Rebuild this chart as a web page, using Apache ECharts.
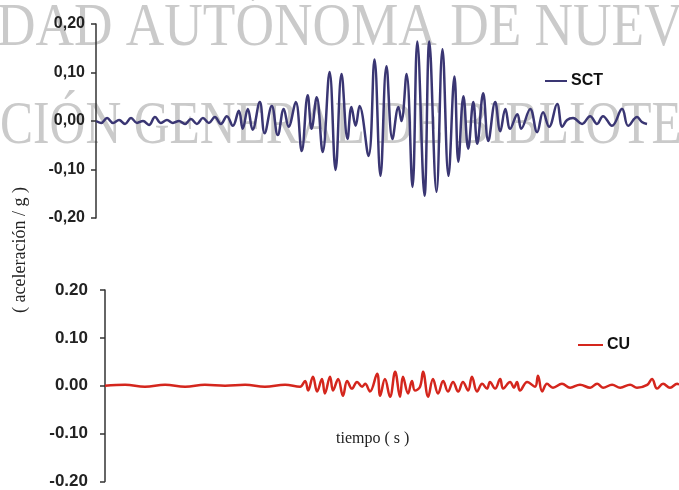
<!DOCTYPE html>
<html>
<head>
<meta charset="utf-8">
<script src="https://cdn.jsdelivr.net/npm/echarts@6/dist/echarts.min.js"></script>
<style>
html,body{margin:0;padding:0;background:#fff;}
#c{width:679px;height:490px;}
</style>
</head>
<body>
<div id="c"></div>
<script>
// ---- data ----
// SCT record: time (s) and acceleration (g)
const sctTime = [0,1.7,3.7,5.7,7.7,9.7,11.7,13.7,15.7,17.7,19.7,21.7,23.7,25.7,27.7,29.7,31.7,33.7,35.7,37.7,39.7,41.7,43.7,45.7,
  47.7,49.0,50.7,52.3,54.7,56.3,58.7,60.7,62.7,64.3,66.7,68.7,70.7,72.0,73.7,75.7,78.0,80.0,82.0,84.0,85.3,86.7,88.0,
  91.0,93.0,95.0,97.0,99.0,101.0,102.0,103.7,105.7,107.3,109.7,111.3,113.7,115.7,117.7,119.7,121.0,122.7,124.3,126.0,
  127.3,129.3,131.0,133.3,135.0,136.7,138.3,140.7,142.0,145.0,147.3,149.3,151.3,154.0,155.7,157.3,159.3,162.3,165.0,
  167.3,169.3,172.3,175.7,177.7,180.7,182.3,184.0];
const sctAccel = [0,-0.004,0.006,-0.004,0.002,-0.006,0.006,-0.004,0.000,-0.008,0.008,-0.004,0.002,-0.004,0.000,-0.006,0.004,-0.006,0.006,-0.004,0.008,-0.006,0.010,-0.010,
  0.021,-0.016,0.025,-0.018,0.039,-0.025,0.031,-0.029,0.025,-0.012,0.039,-0.062,0.053,-0.016,0.049,-0.064,0.101,-0.101,0.097,-0.037,0.029,-0.010,0.031,
  -0.072,0.127,-0.113,0.113,-0.037,0.029,0.000,0.097,-0.136,0.164,-0.154,0.164,-0.146,0.148,-0.113,0.092,-0.084,0.051,-0.057,0.039,
  -0.047,0.057,-0.041,0.039,-0.021,0.025,-0.016,0.014,-0.016,0.025,-0.023,0.018,-0.012,0.035,-0.012,0.002,0.006,-0.006,0.010,
  -0.006,0.010,-0.010,0.025,-0.010,0.008,-0.002,-0.006];
// CU record: time (s) and acceleration (g)
const cuTime = [0,6.7,13.3,20,26.7,33.3,40,46.7,53.3,60,65,66.7,67.7,69.3,70.7,72.3,73.3,75,76,77.7,79.3,80.7,82.3,84,85.7,86.7,88.3,
  90.7,91.7,93.3,95,96.7,98.3,99.3,101,102.3,103.3,105,106,107.7,109.3,111,112.7,114.3,116,117.7,119.3,121,122.3,124,125.7,
  127.3,128.3,130,131.7,132.7,135,136.3,137.3,138.3,140.7,143.3,144.3,145.7,147.3,149.3,152.3,155,158.3,161.7,164,166,169,
  171.7,175,177.3,180.7,182.3,184,186,188.3,190.7,191.3];
const cuAccel = [0,0.002,-0.002,0.002,-0.002,0.002,0,0.002,-0.002,0.002,-0.002,0.010,-0.010,0.019,-0.012,0.014,-0.016,0.019,-0.010,0.014,-0.021,0.010,-0.006,0.008,-0.002,0.004,-0.012,
  0.025,-0.021,0.014,-0.023,0.029,-0.023,0.019,-0.016,0.010,-0.010,-0.002,0.029,-0.023,0.014,-0.016,0.010,-0.012,0.008,-0.012,0.008,-0.010,0.019,-0.012,0.004,
  -0.006,0.008,-0.006,0.014,-0.006,0.008,-0.004,0.008,-0.010,0.008,-0.002,0.021,-0.012,0.004,-0.004,0.004,-0.004,0.002,-0.004,0.004,-0.004,0.002,
  -0.004,0.002,-0.004,0.002,0.014,-0.006,0.004,-0.004,0.004,0.002];
const yTicks = [-0.2,-0.1,0,0.1,0.2];
const seriesNames = ['SCT','CU'];
const yTitle = '( aceleración / g )';
const xTitle = 'tiempo ( s )';
const watermark = ['DAD AUTÓNOMA DE NUEV','CIÓN GENERAL DE BIBLIOTE'];

// ---- chart ----
const chart = echarts.init(document.getElementById('c'), null, {renderer:'canvas'});
const axisColor = '#333';
const sans = '"Liberation Sans", Arial, sans-serif';
const serif = '"Liberation Serif","Times New Roman",serif';
function yAxisCfg(grid, fmt, size, margin){
  return {
    type:'value', gridIndex:grid, min:yTicks[0], max:yTicks[yTicks.length-1], interval:0.1,
    axisLine:{show:true, lineStyle:{color:axisColor, width:1.5}},
    axisTick:{show:true, inside:false, length:5, lineStyle:{color:axisColor, width:1.5}},
    splitLine:{show:false},
    axisLabel:{fontSize:size, margin:margin, formatter:fmt, fontFamily:sans, fontWeight:'bold', color:'#222'}
  };
}
const option = {
  animation:false,
  backgroundColor:'#ffffff',
  grid:[
    {left:96, top:24, width:554, height:194},
    {left:105, top:290, width:574, height:192}
  ],
  xAxis:[
    {type:'value', gridIndex:0, min:0, max:185, show:false},
    {type:'value', gridIndex:1, min:0, max:191.3, show:false}
  ],
  yAxis:[
    yAxisCfg(0, v => v.toFixed(2).replace('.', ','), 16, 11),
    yAxisCfg(1, v => v.toFixed(2), 17, 17)
  ],
  legend:[
    {data:[seriesNames[0]], left:540, top:68, icon:'rect', itemWidth:22, itemHeight:2, itemGap:4,
     textStyle:{fontFamily:sans, fontWeight:'bold', fontSize:16, color:'#111', padding:[0,0,0,-1]}},
    {data:[seriesNames[1]], left:573, top:332, icon:'rect', itemWidth:25, itemHeight:2, itemGap:4,
     textStyle:{fontFamily:sans, fontWeight:'bold', fontSize:16, color:'#111', padding:[0,0,0,-1]}}
  ],
  series:[
    {name:seriesNames[0], type:'line', xAxisIndex:0, yAxisIndex:0, showSymbol:false, smooth:0.4,
     data:sctTime.map((t,i)=>[t, sctAccel[i]]),
     lineStyle:{color:'#3a3673', width:2.5}, itemStyle:{color:'#3a3673'}, z:3},
    {name:seriesNames[1], type:'line', xAxisIndex:1, yAxisIndex:1, showSymbol:false, smooth:0.4,
     data:cuTime.map((t,i)=>[t, cuAccel[i]]),
     lineStyle:{color:'#d4261d', width:2.5}, itemStyle:{color:'#d4261d'}, z:3}
  ],
  graphic:[
    {type:'text', z:0, x:-3, y:29, scaleX:0.86,
     style:{text:watermark[0], fontFamily:serif, fontSize:62, fill:'rgba(150,150,150,0.5)', textVerticalAlign:'middle'}},
    {type:'text', z:0, x:0, y:127, scaleX:0.8,
     style:{text:watermark[1], fontFamily:serif, fontSize:62, fill:'rgba(150,150,150,0.5)', textVerticalAlign:'middle'}},
    {type:'text', z:5, x:20, y:250, rotation:Math.PI/2,
     style:{text:yTitle, fontFamily:serif, fontSize:18, fill:'#222', textAlign:'center', textVerticalAlign:'middle'}},
    {type:'text', z:5, x:336, y:439,
     style:{text:xTitle, fontFamily:serif, fontSize:16, fill:'#222', textAlign:'left', textVerticalAlign:'middle'}}
  ]
};
chart.setOption(option);
</script>
</body>
</html>
